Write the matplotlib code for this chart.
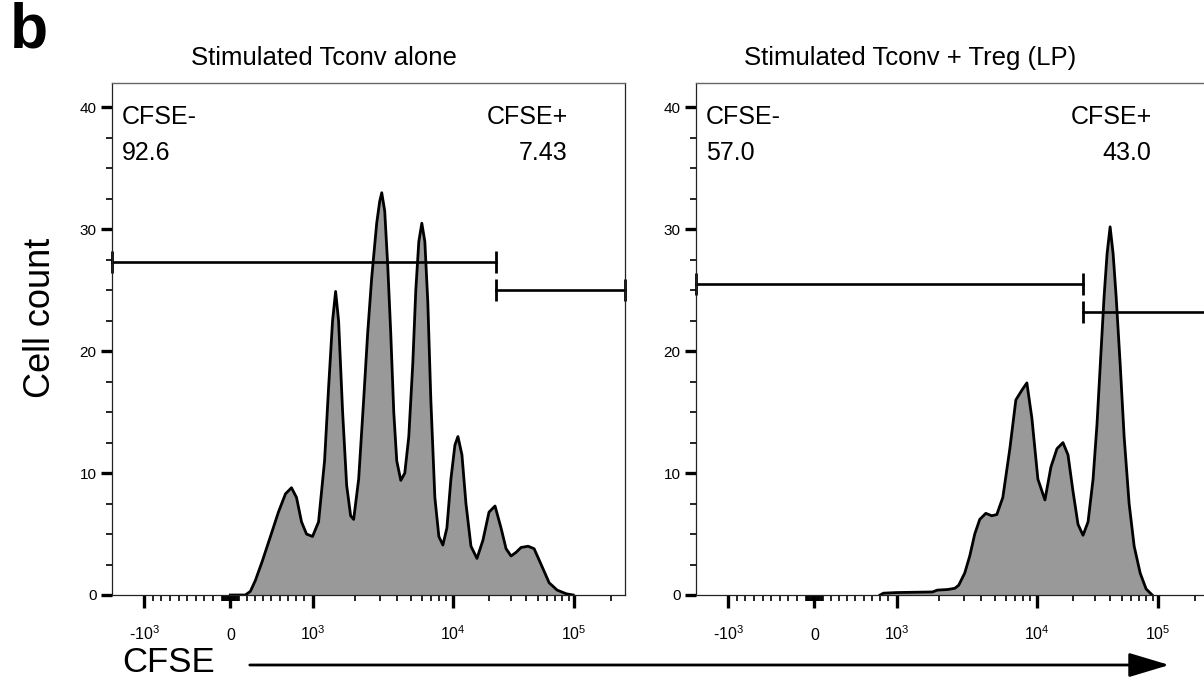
import numpy as np
import matplotlib
matplotlib.use('Agg')
import matplotlib.pyplot as plt

plt.rcParams['font.family'] = ['Liberation Sans', 'DejaVu Sans']
plt.rcParams['mathtext.fontset'] = 'custom'
plt.rcParams['mathtext.rm'] = 'Liberation Sans'
plt.rcParams['mathtext.it'] = 'Liberation Sans:italic'
plt.rcParams['mathtext.bf'] = 'Liberation Sans:bold'

# --- data ---
panel_titles = ['Stimulated Tconv alone', 'Stimulated Tconv + Treg (LP)']

left_cfse = [0, 183, 244, 305, 390, 488, 585, 671, 744, 805, 866, 927, 1000, 1104, 1218, 1301,
             1389, 1460, 1533, 1638, 1750, 1868, 1963, 2131, 2313, 2471, 2638, 2865, 3010, 3112,
             3268, 3434, 3607, 3790, 3981, 4254, 4541, 4850, 5179, 5440, 5717, 6006, 6310, 6627,
             6963, 7438, 7943, 8483, 9061, 9676, 10390, 11000, 11870, 12810, 14090, 15790, 17690,
             19840, 22240, 24930, 27420, 30150, 33160, 36480, 41680, 46700, 53380, 62150, 72360,
             85910, 98100]
left_count = [0, 0.0, 0.3, 1.2, 2.8, 4.8, 6.8, 8.3, 8.8, 8.0, 6.0, 5.0, 4.8, 6.0, 11.0, 17.0,
              22.5, 24.9, 22.5, 15.0, 9.0, 6.5, 6.2, 9.5, 16.0, 21.5, 26.0, 30.5, 32.3, 33.0,
              31.5, 27.0, 21.5, 15.0, 11.0, 9.4, 10.0, 13.0, 19.0, 25.0, 29.0, 30.5, 29.0, 24.0,
              16.0, 8.0, 4.8, 4.1, 5.5, 9.5, 12.3, 13.0, 11.5, 7.5, 4.0, 3.0, 4.5,
              6.8, 7.3, 5.5, 3.8, 3.2, 3.5, 3.9, 4.0, 3.8, 2.5, 1.0, 0.4,
              0.1, 0.0]

right_cfse = [800, 841, 1000, 1807, 1950, 2313, 2600, 2772, 3060, 3323, 3607, 3915, 4324, 4771,
              5179, 5717, 6415, 7079, 7814, 8483, 9210, 10192, 11645, 13050, 14630, 16400, 18040,
              19840, 21820, 24000, 26400, 29030, 31280, 33730, 35800, 37890, 40130, 42480, 44980,
              48530, 52360, 57550, 63350, 71000, 79430, 89200]
right_count = [0, 0.15, 0.2, 0.25, 0.4, 0.45, 0.55, 0.8, 1.8, 3.2, 5.0, 6.2, 6.7, 6.5,
               6.6, 8.0, 12.0, 16.0, 16.8, 17.4, 14.5, 9.5, 7.8, 10.5, 12.0, 12.5, 11.5,
               8.5, 5.8, 4.9, 6.0, 9.5, 14.0, 19.9, 24.5, 28.0, 30.2, 28.0, 24.5,
               19.0, 13.0, 7.5, 4.0, 1.8, 0.5, 0.0]

# gates: split point on CFSE, height of CFSE- and CFSE+ bars
gate_split = [22650, 24000]
gate_neg_y = [27.3, 25.5]
gate_pos_y = [25.05, 23.2]
pct_neg = ['92.6', '57.0']
pct_pos = ['7.43', '43.0']

xmin, xmax = -1693, 262144
major_ticks = [-1000, 0, 1000, 10000, 100000]
major_labels = [r'-$\mathregular{10^3}$', '0', r'$\mathregular{10^3}$',
                r'$\mathregular{10^4}$', r'$\mathregular{10^5}$']


# biexponential-like display: linear inside +-1000, log decades outside
def biex_h(x):
    x = np.asarray(x, dtype=float)
    a = np.abs(x)
    return np.where(a <= 1000, x / 1000.0, np.sign(x) * (1 + np.log10(np.maximum(a, 1000) / 1000.0)))


def biex_h_inv(h):
    h = np.asarray(h, dtype=float)
    return np.where(np.abs(h) <= 1, h * 1000.0, np.sign(h) * 1000.0 * 10 ** (np.abs(h) - 1))


# decade widths differ a little on the cytometer axis
knot_h = [-2, -1, 0, 1, 2, 3, 4]
knot_p = [4, 144, 230, 312, 452, 573, 694]


def forward(x):
    return np.interp(biex_h(x), knot_h, knot_p)


def inverse(p):
    return biex_h_inv(np.interp(p, knot_p, knot_h))


def minor_ticks():
    ticks = []
    for d in [10, 100]:
        for k in range(1, 10):
            ticks += [-k * d, k * d]
    for d in [1000, 10000]:
        for k in range(2, 10):
            ticks.append(k * d)
    ticks.append(200000)
    return ticks


def draw_panel(ax, cfse, count, i):
    ax.set_xscale('function', functions=(forward, inverse))
    ax.fill_between(cfse, count, 0, color='#999999', lw=0)
    ax.plot(cfse, count, color='black', lw=2.0, solid_joinstyle='round')

    # gate bars
    ax.plot([xmin, gate_split[i]], [gate_neg_y[i]] * 2, color='black', lw=1.9,
            marker='|', markersize=16, markeredgewidth=2.0, clip_on=False)
    ax.plot([gate_split[i], xmax], [gate_pos_y[i]] * 2, color='black', lw=1.9,
            marker='|', markersize=16, markeredgewidth=2.0, clip_on=False)

    ax.set_xlim(xmin, xmax)
    ax.set_ylim(0, 42)

    ax.set_xticks(major_ticks)
    ax.set_xticklabels(major_labels)
    ax.set_xticks(minor_ticks(), minor=True)
    ax.set_yticks([0, 10, 20, 30, 40])
    ax.set_yticks([2.5, 5, 7.5, 12.5, 15, 17.5, 22.5, 25, 27.5, 32.5, 35, 37.5], minor=True)

    ax.tick_params(axis='x', which='major', direction='out', length=9.4, width=2.4,
                   labelsize=11.5, pad=23)
    ax.tick_params(axis='x', which='minor', direction='out', length=4.3, width=1.2)
    ax.tick_params(axis='y', which='major', direction='out', length=8, width=2.4,
                   labelsize=11, pad=3)
    ax.tick_params(axis='y', which='minor', direction='out', length=4.3, width=1.2)
    for t in ax.get_xticklabels():
        t.set_verticalalignment('baseline')

    for side in ['left', 'bottom', 'right']:
        ax.spines[side].set_linewidth(0.9)
        ax.spines[side].set_color('#222222')
    ax.spines['top'].set_linewidth(1.0)
    ax.spines['top'].set_color('#666666')

    ax.text(0.0195, 0.934, 'CFSE-', transform=ax.transAxes, fontsize=18, ha='left', va='center')
    ax.text(0.0195, 0.863, pct_neg[i], transform=ax.transAxes, fontsize=18, ha='left', va='center')
    ax.text(0.889, 0.934, 'CFSE+', transform=ax.transAxes, fontsize=18, ha='right', va='center')
    ax.text(0.887, 0.863, pct_pos[i], transform=ax.transAxes, fontsize=18, ha='right', va='center')


fig = plt.figure(figsize=(12.04, 6.90), dpi=100)
ax1 = fig.add_axes([112 / 1204, 1 - 595 / 690, 513 / 1204, 512 / 690])
ax2 = fig.add_axes([696 / 1204, 1 - 595 / 690, 513 / 1204, 512 / 690])

draw_panel(ax1, left_cfse, left_count, 0)
draw_panel(ax2, right_cfse, right_count, 1)

fig.text(324 / 1204, 1 - 58 / 690, panel_titles[0], fontsize=18.5, ha='center', va='center')
fig.text(910 / 1204, 1 - 58 / 690, panel_titles[1], fontsize=18.5, ha='center', va='center')

fig.text(10 / 1204, 1 - 2 / 690, 'b', fontsize=45, fontweight='bold', ha='left', va='top')
fig.text(40 / 1204, 1 - 318 / 690, 'Cell count', fontsize=26, rotation=90, ha='center', va='center')
fig.text(169 / 1204, 1 - 662 / 690, 'CFSE', fontsize=25, ha='center', va='center')

# long arrow under the x axes
fig.add_artist(matplotlib.patches.FancyArrowPatch(
    (247 / 1204, 1 - 665 / 690), (1172 / 1204, 1 - 665 / 690),
    transform=fig.transFigure, arrowstyle='-|>,head_length=1.0,head_width=0.3',
    mutation_scale=25, lw=2, color='black'))

plt.savefig('out.png', dpi=100)
